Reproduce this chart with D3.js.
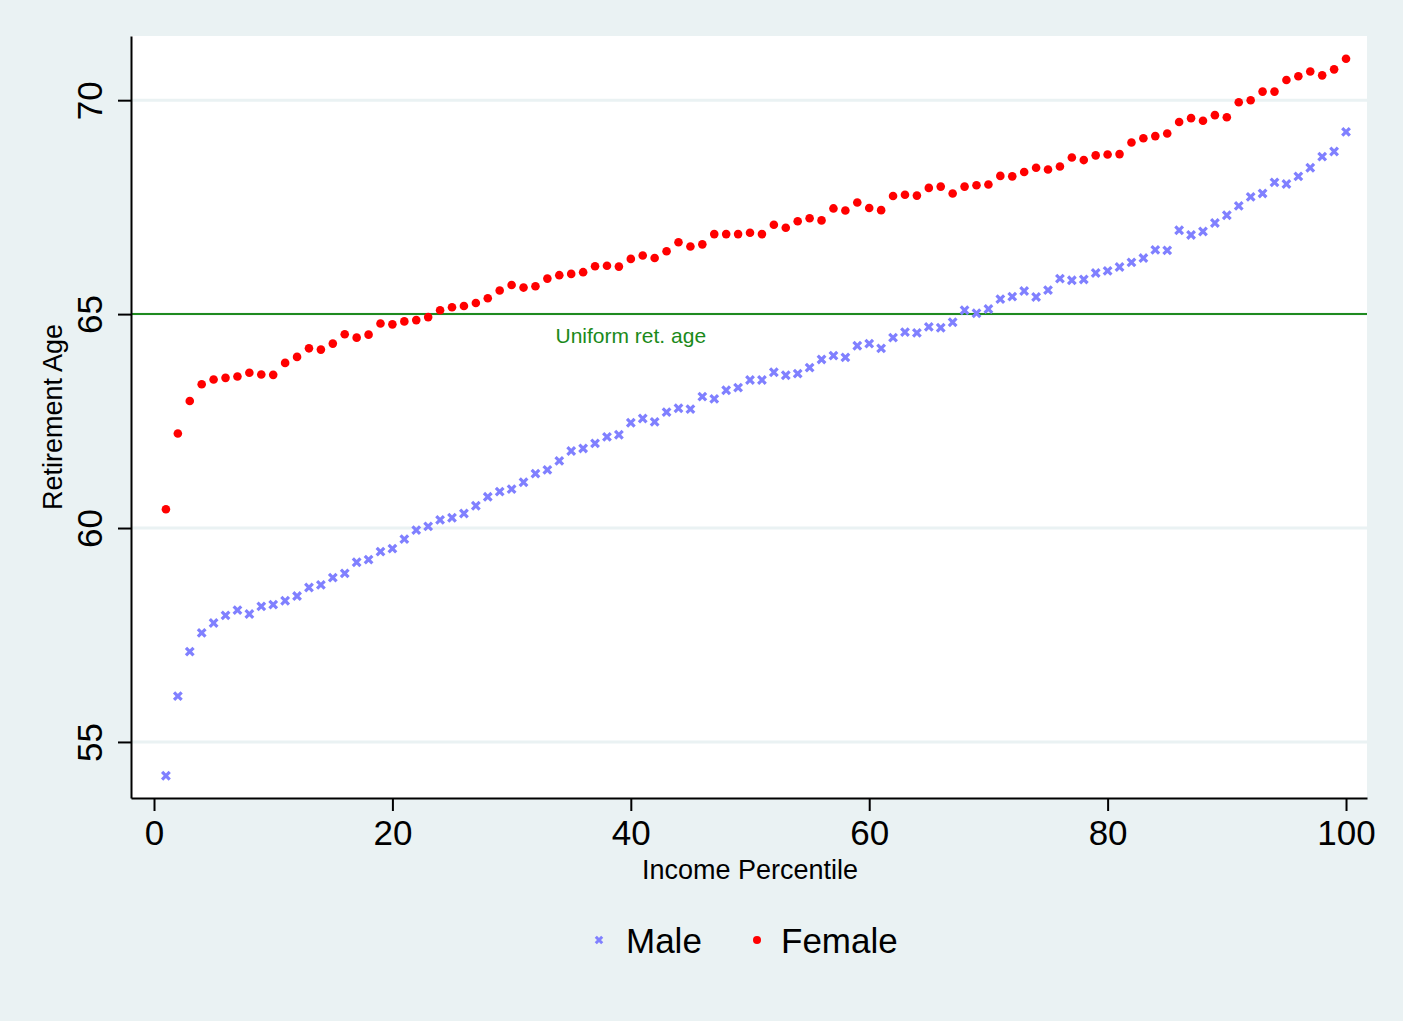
<!DOCTYPE html>
<html>
<head>
<meta charset="utf-8">
<script src="https://cdn.jsdelivr.net/npm/d3@7"></script>
<style>
  body { margin: 0; background: #eaf2f3; }
  text { font-family: "Liberation Sans", Arial, Helvetica, sans-serif; }
</style>
</head>
<body>
<div id="chart"></div>
<script>
// income percentiles 1..100
const percentiles = d3.range(1, 101);

const maleAge = [
  54.21, 56.07, 57.11, 57.55, 57.78, 57.96, 58.08, 57.99, 58.17, 58.21,
  58.30, 58.41, 58.61, 58.67, 58.84, 58.94, 59.20, 59.26, 59.45, 59.52,
  59.74, 59.95, 60.04, 60.19, 60.24, 60.34, 60.52, 60.73, 60.85, 60.91,
  61.07, 61.27, 61.36, 61.57, 61.80, 61.86, 61.98, 62.13, 62.18, 62.46,
  62.56, 62.48, 62.71, 62.80, 62.78, 63.07, 63.02, 63.22, 63.28, 63.46,
  63.46, 63.64, 63.57, 63.61, 63.75, 63.94, 64.03, 63.99, 64.26, 64.31,
  64.20, 64.45, 64.58, 64.56, 64.70, 64.68, 64.81, 65.09, 65.02, 65.12,
  65.35, 65.41, 65.54, 65.40, 65.56, 65.83, 65.79, 65.81, 65.96, 66.01,
  66.10, 66.21, 66.31, 66.50, 66.49, 66.96, 66.85, 66.93, 67.13, 67.31,
  67.53, 67.74, 67.82, 68.08, 68.04, 68.22, 68.42, 68.68, 68.80, 69.26
];

const femaleAge = [
  60.44, 62.21, 62.97, 63.36, 63.47, 63.51, 63.54, 63.63, 63.59, 63.58,
  63.86, 64.00, 64.20, 64.17, 64.31, 64.53, 64.45, 64.52, 64.78, 64.76,
  64.83, 64.86, 64.93, 65.09, 65.16, 65.19, 65.26, 65.37, 65.55, 65.68,
  65.62, 65.65, 65.83, 65.91, 65.94, 65.98, 66.12, 66.13, 66.11, 66.29,
  66.37, 66.31, 66.47, 66.68, 66.58, 66.63, 66.87, 66.87, 66.87, 66.90,
  66.87, 67.09, 67.02, 67.17, 67.24, 67.19, 67.47, 67.42, 67.61, 67.48,
  67.43, 67.76, 67.79, 67.77, 67.95, 67.98, 67.82, 67.98, 68.01, 68.03,
  68.23, 68.22, 68.32, 68.42, 68.38, 68.45, 68.66, 68.60, 68.71, 68.73,
  68.74, 69.01, 69.11, 69.16, 69.22, 69.49, 69.58, 69.52, 69.65, 69.60,
  69.95, 70.00, 70.20, 70.20, 70.47, 70.56, 70.67, 70.58, 70.72, 70.97
];

const xTicks = [0, 20, 40, 60, 80, 100];
const yTicks = [55, 60, 65, 70];
const uniformAge = 65;

const width = 1403, height = 1021;
const plot = { left: 131, right: 1367, top: 36, bottom: 798 };

const svg = d3.select("#chart").append("svg")
  .attr("width", width)
  .attr("height", height);

svg.append("rect")
  .attr("width", width).attr("height", height)
  .attr("fill", "#eaf2f3");

const x = d3.scaleLinear()
  .domain([-1.93, 101.76])
  .range([plot.left, plot.right]);

const y = d3.scaleLinear()
  .domain([53.69, 71.5])
  .range([plot.bottom, plot.top]);

// plot region
svg.append("rect")
  .attr("x", plot.left).attr("y", plot.top)
  .attr("width", plot.right - plot.left)
  .attr("height", plot.bottom - plot.top)
  .attr("fill", "#ffffff");

// gridlines
svg.append("g")
  .selectAll("line")
  .data(yTicks)
  .join("line")
  .attr("x1", plot.left).attr("x2", plot.right)
  .attr("y1", (d) => y(d)).attr("y2", (d) => y(d))
  .attr("stroke", "#eaf2f3")
  .attr("stroke-width", 3);

// uniform retirement age
svg.append("line")
  .attr("x1", plot.left).attr("x2", plot.right)
  .attr("y1", y(uniformAge)).attr("y2", y(uniformAge))
  .attr("stroke", "#1f8a1f")
  .attr("stroke-width", 2);

svg.append("text")
  .attr("x", x(40)).attr("y", y(64.5))
  .attr("text-anchor", "middle")
  .attr("dominant-baseline", "central")
  .attr("fill", "#1a8a1a")
  .attr("font-size", 21)
  .text("Uniform ret. age");

// axes
const xAxis = svg.append("g")
  .attr("transform", `translate(0,${plot.bottom})`)
  .call(d3.axisBottom(x).tickValues(xTicks).tickSizeInner(13).tickSizeOuter(0).tickPadding(6));

const yAxis = svg.append("g")
  .attr("transform", `translate(${plot.left},0)`)
  .call(d3.axisLeft(y).tickValues(yTicks).tickSizeInner(13).tickSizeOuter(0).tickPadding(0));

[xAxis, yAxis].forEach((ax) => {
  ax.select(".domain").attr("stroke", "#000").attr("stroke-width", 2);
  ax.selectAll(".tick line").attr("stroke", "#000").attr("stroke-width", 2);
  ax.selectAll(".tick text")
    .attr("fill", "#000")
    .attr("font-size", 35)
    .attr("font-family", "Liberation Sans, Arial, sans-serif");
});

xAxis.selectAll(".tick text").attr("dy", "0.8em");

yAxis.selectAll(".tick text")
  .attr("x", null).attr("dy", null)
  .attr("text-anchor", "middle")
  .attr("transform", "translate(-42,0) rotate(-90)")
  .attr("dominant-baseline", "central");

// axis titles
svg.append("text")
  .attr("x", (plot.left + plot.right) / 2 + 1)
  .attr("y", 879)
  .attr("text-anchor", "middle")
  .attr("font-size", 27)
  .text("Income Percentile");

svg.append("text")
  .attr("transform", `translate(62,${(plot.top + plot.bottom) / 2}) rotate(-90)`)
  .attr("text-anchor", "middle")
  .attr("font-size", 27)
  .text("Retirement Age");

// markers
const crossPath = (s) => `M${-s},${-s}L${s},${s}M${-s},${s}L${s},${-s}`;

svg.append("g")
  .selectAll("path")
  .data(percentiles)
  .join("path")
  .attr("transform", (d, i) => `translate(${x(d)},${y(maleAge[i])})`)
  .attr("d", crossPath(3.8))
  .attr("stroke", "#8080ff")
  .attr("stroke-width", 3.2)
  .attr("fill", "none");

svg.append("g")
  .selectAll("circle")
  .data(percentiles)
  .join("circle")
  .attr("cx", (d) => x(d))
  .attr("cy", (d, i) => y(femaleAge[i]))
  .attr("r", 4.3)
  .attr("fill", "#ff0000");

// legend
const legend = svg.append("g").attr("transform", "translate(0,940)");

legend.append("path")
  .attr("transform", "translate(599,0)")
  .attr("d", crossPath(3.2))
  .attr("stroke", "#8080ff")
  .attr("stroke-width", 3)
  .attr("fill", "none");

legend.append("text")
  .attr("x", 626).attr("y", 0)
  .attr("dominant-baseline", "central")
  .attr("font-size", 35)
  .text("Male");

legend.append("circle")
  .attr("cx", 757).attr("cy", 0)
  .attr("r", 4)
  .attr("fill", "#ff0000");

legend.append("text")
  .attr("x", 781).attr("y", 0)
  .attr("dominant-baseline", "central")
  .attr("font-size", 35)
  .text("Female");
</script>
</body>
</html>
